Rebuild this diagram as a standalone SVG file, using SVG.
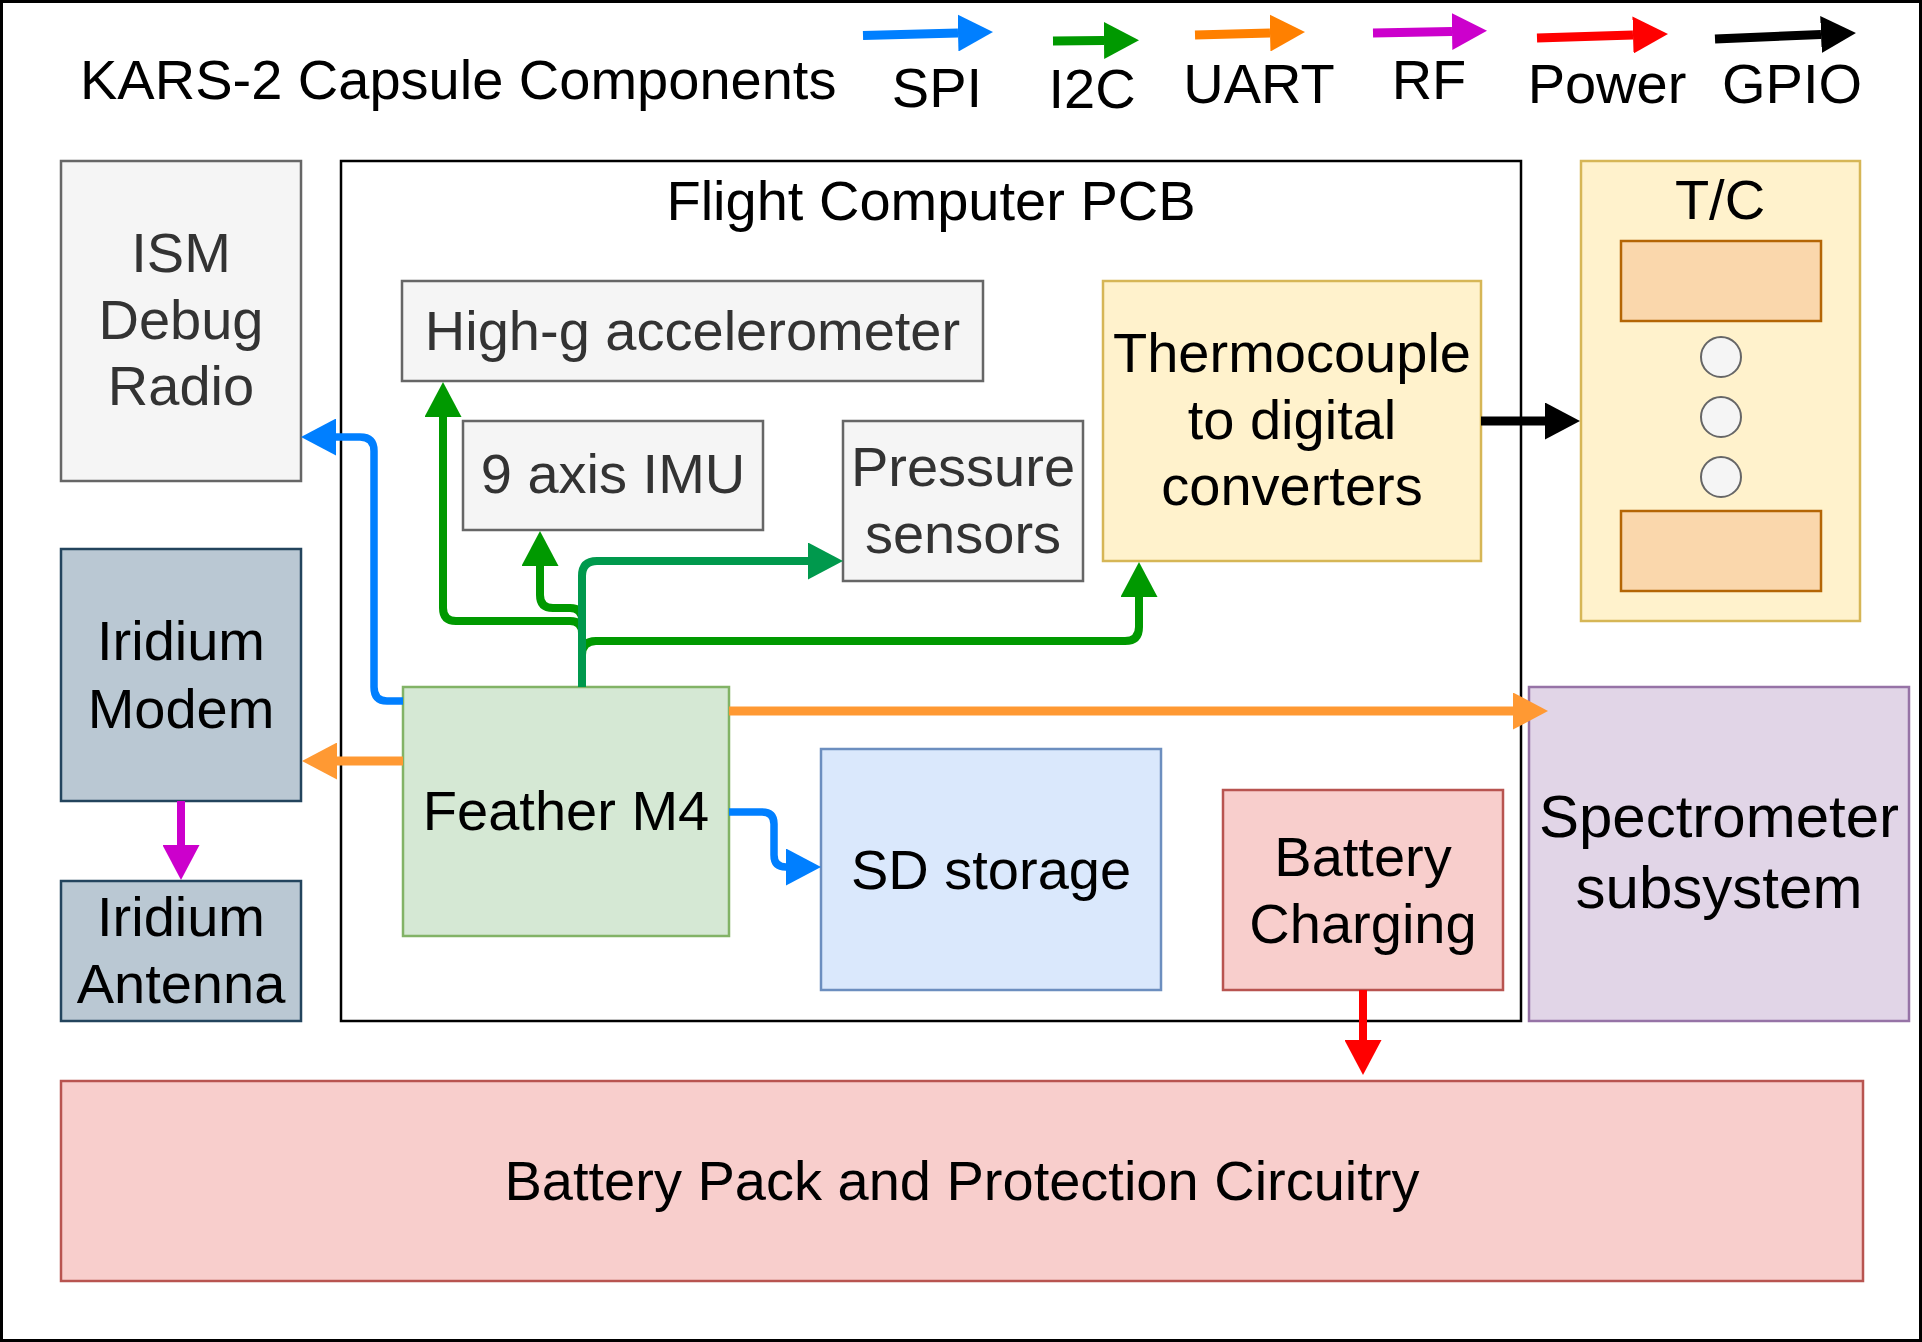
<svg xmlns="http://www.w3.org/2000/svg" width="1922" height="1342" viewBox="0 0 1922 1342">
<style>
text{font-family:"Liberation Sans",Arial,Helvetica,sans-serif;font-size:56px;fill:#000;text-anchor:middle}
.dk{fill:#333333}
.box{stroke-width:2.5}
.gray{fill:#f5f5f5;stroke:#666666}
.slate{fill:#bac8d3;stroke:#23445d}
.yel{fill:#fff2cc;stroke:#d6b656}
.org{fill:#fad7ac;stroke:#b46504}
.grn{fill:#d5e8d4;stroke:#82b366}
.blu{fill:#dae8fc;stroke:#6c8ebf}
.red{fill:#f8cecc;stroke:#b85450}
.pur{fill:#e1d5e7;stroke:#9673a6}
.e{fill:none;stroke-linejoin:round}
.spi{stroke:#007fff;stroke-width:7.5;marker-end:url(#aSpi)}
.i2c{stroke:#009900;stroke-width:8;marker-end:url(#aI2c)}
.i2c2{stroke:#00994d;stroke-width:8;marker-end:url(#aI2c2)}
.uart{stroke:#ff9933;stroke-width:9;marker-end:url(#aUart)}
.uartL{stroke:#ff8000;marker-end:url(#aUartL)}
.rf{stroke:#cc00cc;stroke-width:8;marker-end:url(#aRf)}
.pwr{stroke:#ff0000;stroke-width:8;marker-end:url(#aPwr)}
.gpio{stroke:#000000;stroke-width:9;marker-end:url(#aGpio)}
#legend path{stroke-width:9}
</style>
<defs>
<marker id="aSpi" viewBox="0 0 35 37" markerWidth="35" markerHeight="37" markerUnits="userSpaceOnUse" refX="0" refY="18.5" orient="auto"><path d="M0,0L35,18.5L0,37Z" fill="#007fff"/></marker>
<marker id="aI2c" viewBox="0 0 35 37" markerWidth="35" markerHeight="37" markerUnits="userSpaceOnUse" refX="0" refY="18.5" orient="auto"><path d="M0,0L35,18.5L0,37Z" fill="#009900"/></marker>
<marker id="aI2c2" viewBox="0 0 35 37" markerWidth="35" markerHeight="37" markerUnits="userSpaceOnUse" refX="0" refY="18.5" orient="auto"><path d="M0,0L35,18.5L0,37Z" fill="#00994d"/></marker>
<marker id="aUart" viewBox="0 0 35 37" markerWidth="35" markerHeight="37" markerUnits="userSpaceOnUse" refX="0" refY="18.5" orient="auto"><path d="M0,0L35,18.5L0,37Z" fill="#ff9933"/></marker>
<marker id="aUartL" viewBox="0 0 35 37" markerWidth="35" markerHeight="37" markerUnits="userSpaceOnUse" refX="0" refY="18.5" orient="auto"><path d="M0,0L35,18.5L0,37Z" fill="#ff8000"/></marker>
<marker id="aRf" viewBox="0 0 35 37" markerWidth="35" markerHeight="37" markerUnits="userSpaceOnUse" refX="0" refY="18.5" orient="auto"><path d="M0,0L35,18.5L0,37Z" fill="#cc00cc"/></marker>
<marker id="aPwr" viewBox="0 0 35 37" markerWidth="35" markerHeight="37" markerUnits="userSpaceOnUse" refX="0" refY="18.5" orient="auto"><path d="M0,0L35,18.5L0,37Z" fill="#ff0000"/></marker>
<marker id="aGpio" viewBox="0 0 35 37" markerWidth="35" markerHeight="37" markerUnits="userSpaceOnUse" refX="0" refY="18.5" orient="auto"><path d="M0,0L35,18.5L0,37Z" fill="#000000"/></marker>
</defs>
<rect x="0" y="0" width="1922" height="1342" fill="#ffffff"/>
<rect x="1.5" y="1.5" width="1919" height="1339" fill="none" stroke="#000" stroke-width="3"/>

<g id="title"><text x="80" y="99" style="text-anchor:start">KARS-2 Capsule Components</text></g>

<g id="legend">
<path class="e spi" d="M863,35.5 L958,33"/>
<text x="937" y="107">SPI</text>
<path class="e i2c" d="M1053,41 L1104,40.5"/>
<text x="1092" y="108">I2C</text>
<path class="e uartL" d="M1195,35 L1270,33"/>
<text x="1259" y="103">UART</text>
<path class="e rf" d="M1373,33 L1452,31.5"/>
<text x="1429" y="99">RF</text>
<path class="e pwr" d="M1537,38 L1633,35"/>
<text x="1607" y="103">Power</text>
<path class="e gpio" d="M1715,39 L1821,34.5"/>
<text x="1792" y="103">GPIO</text>
</g>

<g id="pcb"><rect x="341" y="161" width="1180" height="860" fill="#ffffff" stroke="#000" stroke-width="2.5"/><text x="931" y="220">Flight Computer PCB</text></g>

<g id="ism"><rect class="box gray" x="61" y="161" width="240" height="320"/><text class="dk" x="181" y="272">ISM</text><text class="dk" x="181" y="339">Debug</text><text class="dk" x="181" y="405">Radio</text></g>
<g id="modem"><rect class="box slate" x="61" y="549" width="240" height="252"/><text x="181" y="660">Iridium</text><text x="181" y="728">Modem</text></g>
<g id="antenna"><rect class="box slate" x="61" y="881" width="240" height="140"/><text x="181" y="936">Iridium</text><text x="181" y="1003">Antenna</text></g>
<g id="highg"><rect class="box gray" x="402" y="281" width="581" height="100"/><text class="dk" x="692.5" y="350">High-g accelerometer</text></g>
<g id="imu"><rect class="box gray" x="463" y="421" width="300" height="109"/><text class="dk" x="613" y="493">9 axis IMU</text></g>
<g id="pressure"><rect class="box gray" x="843" y="421" width="240" height="160"/><text class="dk" x="963" y="486">Pressure</text><text class="dk" x="963" y="553">sensors</text></g>
<g id="tcdc"><rect class="box yel" x="1103" y="281" width="378" height="280"/><text x="1292" y="372">Thermocouple</text><text x="1292" y="439">to digital</text><text x="1292" y="505">converters</text></g>
<g id="tc"><rect class="box yel" x="1581" y="161" width="279" height="460"/><text x="1720" y="219">T/C</text>
<rect class="box org" x="1621" y="241" width="200" height="80"/>
<circle class="gray" stroke-width="2" cx="1721" cy="357" r="20"/>
<circle class="gray" stroke-width="2" cx="1721" cy="417" r="20"/>
<circle class="gray" stroke-width="2" cx="1721" cy="477" r="20"/>
<rect class="box org" x="1621" y="511" width="200" height="80"/></g>
<g id="feather"><rect class="box grn" x="403" y="687" width="326" height="249"/><text x="566" y="830">Feather M4</text></g>
<g id="sd"><rect class="box blu" x="821" y="749" width="340" height="241"/><text x="991" y="889">SD storage</text></g>
<g id="charging"><rect class="box red" x="1223" y="790" width="280" height="200"/><text x="1363" y="876">Battery</text><text x="1363" y="943">Charging</text></g>
<g id="spectrometer"><rect class="box pur" x="1529" y="687" width="380" height="334"/><text x="1719" y="837" style="font-size:60px">Spectrometer</text><text x="1719" y="908" style="font-size:60px">subsystem</text></g>
<g id="battery"><rect class="box red" x="61" y="1081" width="1802" height="200"/><text x="962" y="1200">Battery Pack and Protection Circuitry</text></g>

<g id="connectors">
<path class="e spi" d="M403,701 H387 Q374,701 374,687 V451 Q374,437 360,437 H336"/>
<path class="e spi" d="M729,812 H762 Q774,812 774,824 V855 Q774,867 786,867"/>
<path class="e i2c" d="M582,687 V633 Q582,621 570,621 H456 Q443,621 443,608 V417"/>
<path class="e i2c" d="M582,687 V620 Q582,608 570,608 H553 Q540,608 540,595 V566"/>
<path class="e i2c" d="M582,687 V655 Q582,641 596,641 H1125 Q1139,641 1139,627 V597"/>
<path class="e i2c2" d="M582,687 V576 Q582,561 597,561 H808"/>
<path class="e uart" d="M403,761 H337"/>
<path class="e uart" d="M729,711 H1513"/>
<path class="e gpio" d="M1481,421 H1545"/>
<path class="e rf" d="M181,801 V845"/>
<path class="e pwr" d="M1363,990 V1040"/>
</g>
</svg>
